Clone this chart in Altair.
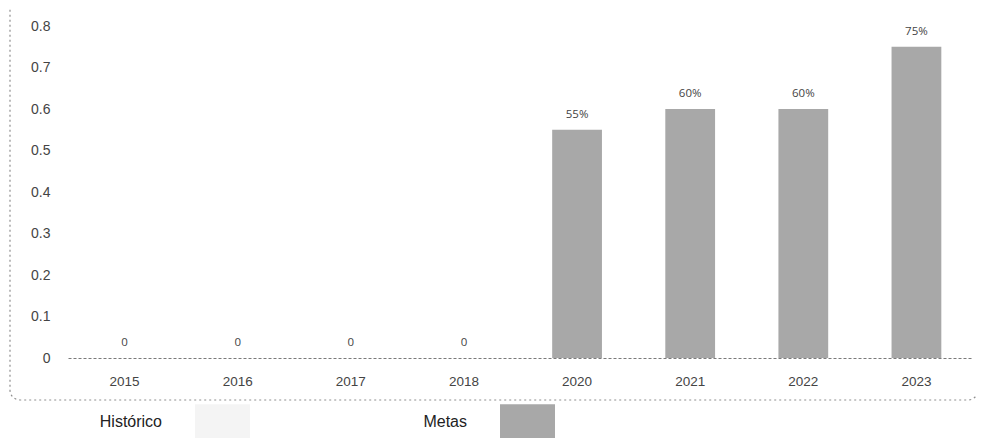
import altair as alt
import pandas as pd

years = ["2015", "2016", "2017", "2018", "2020", "2021", "2022", "2023"]
values = [0, 0, 0, 0, 0.55, 0.60, 0.60, 0.75]
labels = ["0", "0", "0", "0", "55%", "60%", "60%", "75%"]
series = ["Histórico"] * 4 + ["Metas"] * 4
y_ticks = [0, 0.1, 0.2, 0.3, 0.4, 0.5, 0.6, 0.7, 0.8]

df = pd.DataFrame({"year": years, "value": values, "label": labels, "series": series})

x = alt.X("year:N", sort=years, title=None,
          scale=alt.Scale(paddingInner=0.56, paddingOuter=0.28),
          axis=alt.Axis(labelAngle=0, ticks=False, labelPadding=16,
                        labelFont="Liberation Sans", labelFontSize=13.5,
                        labelColor="#444444", domainColor="#7a7a7a",
                        domainDash=[3, 2], domainWidth=1.2))
y = alt.Y("value:Q", title=None,
          scale=alt.Scale(domain=[0, 0.8], nice=False),
          axis=alt.Axis(values=y_ticks, format="~g", grid=False, ticks=False,
                        domain=False, labelPadding=18,
                        labelFont="Liberation Sans", labelFontSize=14,
                        labelColor="#444444"))

legend = alt.Legend(title=None, orient="none", direction="horizontal",
                    legendX=127, legendY=368,
                    symbolType="M-1,-0.64H1V0.64H-1Z", symbolSize=3025,
                    symbolStrokeWidth=0, labelAlign="right",
                    labelBaseline="middle",
                    labelOffset={"expr": "-88"},
                    labelFont="Liberation Sans", labelFontSize=16,
                    labelColor="#222222", columnPadding=173, symbolOpacity=1)

bars = alt.Chart(df).mark_bar().encode(
    x=x, y=y,
    color=alt.Color("series:N",
                    scale=alt.Scale(domain=["Histórico", "Metas"],
                                    range=["#f4f4f4", "#a8a8a8"]),
                    legend=legend),
)

text = alt.Chart(df).mark_text(baseline="bottom", dy=-10, font="Open Sans",
                               fontSize=11.5, color="#444444").encode(
    x=alt.X("year:N", sort=years), y="value:Q", text="label:N")

frame = alt.Chart(pd.DataFrame({"f": [0]})).mark_rect(
    fill=None, stroke="#8f8f8f", strokeDash=[2, 3], strokeWidth=1.2, cornerRadius=10
).encode(x=alt.value(-58), x2=alt.value(910), y=alt.value(-60), y2=alt.value(374))

chart = alt.layer(frame, bars, text).properties(
    width=905, height=332,
    autosize=alt.AutoSizeParams(type="none"),
    padding={"left": 60, "top": 18, "right": 3, "bottom": 80},
).configure_view(stroke=None)

chart.save("out.html", embed_options={"renderer": "svg", "actions": False})
